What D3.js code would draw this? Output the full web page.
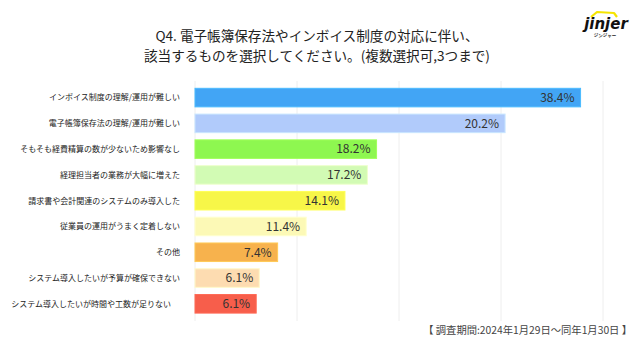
<!DOCTYPE html>
<html><head><meta charset="utf-8">
<script src="https://cdn.jsdelivr.net/npm/d3@7"></script>
<style>
html,body{margin:0;padding:0;background:#fff;}
svg{display:block;font-family:"Noto Sans CJK JP","Noto Sans",sans-serif;}
</style></head><body>
<svg id="c" width="640" height="357"></svg>
<script>
const titleLines = ["Q4. 電子帳簿保存法やインボイス制度の対応に伴い、", "該当するものを選択してください。(複数選択可,3つまで)"];
const categories = [
  "インボイス制度の理解/運用が難しい",
  "電子帳簿保存法の理解/運用が難しい",
  "そもそも経費精算の数が少ないため影響なし",
  "経理担当者の業務が大幅に増えた",
  "請求書や会計関連のシステムのみ導入した",
  "従業員の運用がうまく定着しない",
  "その他",
  "システム導入したいが予算が確保できない",
  "システム導入したいが時間や工数が足りない"
];
// printed percentages
const labelValues = [38.4, 20.2, 18.2, 17.2, 14.1, 11.4, 7.4, 6.1, 6.1];
// bar lengths as drawn in the picture (the 2nd bar is drawn longer than its label)
const barValues = [37.8, 30.4, 17.8, 16.9, 14.7, 10.9, 8.1, 6.3, 6.0];
const colors = ["#42a5f5", "#b1cbfb", "#8ef750", "#d2fbb4", "#f7f648", "#fcf9b6", "#f7b24d", "#fddcb1", "#f75e4b"];
const tickValues = [0, 10, 20, 30, 40];
const footnote = "【 調査期間:2024年1月29日～同年1月30日 】";

const svg = d3.select("#c");
const x = d3.scaleLinear().domain([0, 40]).range([195, 603]);
const y = d3.scaleBand().domain(categories).range([84.7, 316.7]).paddingInner(0.28).paddingOuter(0.14);

// gridlines
svg.append("g").selectAll("line").data(tickValues).join("line")
  .attr("x1", d => x(d)).attr("x2", d => x(d))
  .attr("y1", 81).attr("y2", 321)
  .attr("stroke", "#eeeeee").attr("stroke-width", 1);

// bars
svg.append("g").selectAll("rect").data(categories).join("rect")
  .attr("x", x(0))
  .attr("y", d => y(d))
  .attr("width", (d, i) => x(barValues[i]) - x(0))
  .attr("height", y.bandwidth())
  .attr("fill", (d, i) => colors[i])
  .attr("stroke", (d, i) => d3.color(colors[i]).brighter(0.35))
  .attr("stroke-width", 1);

// value labels
svg.append("g").selectAll("text").data(categories).join("text")
  .attr("x", (d, i) => x(barValues[i]) - 6)
  .attr("y", d => y(d) + y.bandwidth() / 2)
  .attr("dy", "0.36em")
  .attr("text-anchor", "end")
  .attr("font-size", 12)
  .attr("fill", "#333")
  .text((d, i) => labelValues[i].toFixed(1) + "%");

// category labels
svg.append("g").selectAll("text").data(categories).join("text")
  .attr("x", (d, i) => i === categories.length - 1 ? 171 : 180)
  .attr("y", d => y(d) + y.bandwidth() / 2)
  .attr("dy", "0.36em")
  .attr("text-anchor", "end")
  .attr("font-size", 8)
  .attr("fill", "#222")
  .text(d => d);

// title
svg.append("g").selectAll("text").data(titleLines).join("text")
  .attr("x", 317).attr("y", (d, i) => 40.5 + i * 20)
  .attr("text-anchor", "middle")
  .attr("font-size", 13.6)
  .attr("fill", "#222")
  .text(d => d);

// footnote
svg.append("text").attr("x", 632).attr("y", 334)
  .attr("text-anchor", "end").attr("font-size", 10.3).attr("fill", "#444")
  .text(footnote);

// logo
const logo = svg.append("g");
logo.append("path").attr("d", "M591,17 L597,12 L614,13 L617,17")
  .attr("fill", "none").attr("stroke", "#f5e500").attr("stroke-width", 2.2).attr("stroke-linejoin", "round");
logo.append("text").attr("x", 606).attr("y", 29).attr("text-anchor", "middle")
  .attr("font-family", "'DejaVu Sans', sans-serif").attr("font-weight", "bold")
  .attr("font-style", "italic")
  .attr("font-size", 15).attr("fill", "#111").text("jinjer");
logo.append("text").attr("x", 605).attr("y", 37).attr("text-anchor", "middle")
  .attr("font-size", 4.5).attr("font-weight", "bold").attr("fill", "#222").text("ジンジャー");
</script>
</body></html>
